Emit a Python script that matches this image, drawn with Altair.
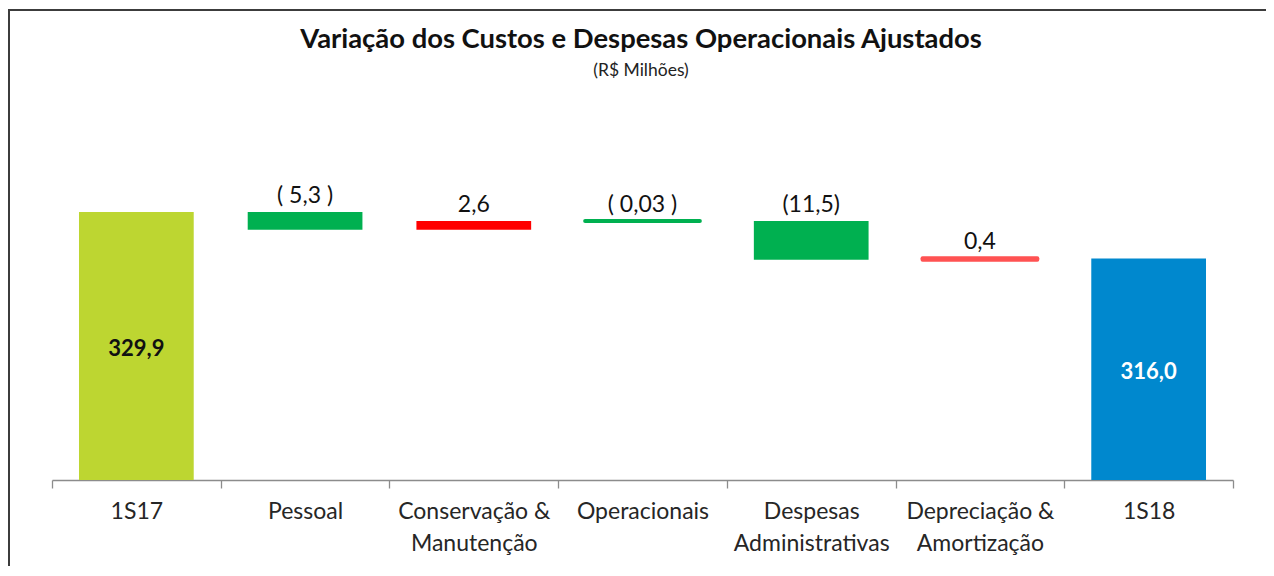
import altair as alt
import pandas as pd

# ---- data ----
categories = ["1S17", "Pessoal", "Conservação &\nManutenção", "Operacionais",
              "Despesas\nAdministrativas", "Depreciação &\nAmortização", "1S18"]
values = [329.9, -5.3, 2.6, -0.03, -11.5, 0.4, 316.0]
kinds = ["total", "delta", "delta", "delta", "delta", "delta", "total"]
value_labels = ["329,9", "( 5,3 )", "2,6", "( 0,03 )", "(11,5)", "0,4", "316,0"]
title_text = "Variação dos Custos e Despesas Operacionais Ajustados"
subtitle_text = "(R$ Milhões)"

# ---- styles ----
palette = ["#BDD631", "#00B050", "#FF0000", "#00B050", "#00B050", "#FF5252", "#0088CE"]
total_label_colors = {"1S17": "#111111", "1S18": "#FFFFFF"}
FONT = "Lato"
Y_MIN, Y_MAX = 250, 340
W, H = 1181, 302

# waterfall geometry derived from the values
rows = []
running = 0.0
for cat, v, k, lab in zip(categories, values, kinds, value_labels):
    if k == "total":
        start, end = 0.0, v
        running = v
    else:
        start, end = running, running + v
        running = end
    rows.append(dict(category=cat, kind=k, label=lab, start=start, end=end,
                     top=max(start, end), size=abs(end - start),
                     mid=(max(min(start, end), Y_MIN) + max(start, end)) / 2,
                     lcolor=total_label_colors.get(cat, "#111111")))
df = pd.DataFrame(rows)

x_enc = alt.X("category:N", sort=categories, title=None,
              scale=alt.Scale(paddingInner=0, paddingOuter=0),
              axis=alt.Axis(labelExpr="split(datum.label, '\\n')", labelAngle=0,
                            tickBand="extent", tickSize=8, labelPadding=12,
                            labelFont=FONT, labelFontSize=23, labelColor="#262626",
                            labelLineHeight=32, labelBaseline="top",
                            domainColor="#8C8C8C", tickColor="#8C8C8C",
                            domainWidth=1.3, tickWidth=1.3))
y_scale = alt.Scale(domain=[Y_MIN, Y_MAX], nice=False, zero=False)

base = alt.Chart(df)

bars = base.mark_bar(width=alt.RelativeBandSize(0.68), clip=True,
                     strokeWidth=4, strokeJoin="round").encode(
    x=x_enc,
    y=alt.Y("start:Q", scale=y_scale, axis=None),
    y2="end:Q",
    color=alt.Color("category:N", sort=categories,
                    scale=alt.Scale(domain=categories, range=palette), legend=None),
    stroke=alt.Stroke("category:N", sort=categories,
                      scale=alt.Scale(domain=categories, range=palette), legend=None),
    strokeOpacity=alt.condition("datum.size < 1", alt.value(1), alt.value(0)),
)

delta_labels = base.transform_filter("datum.kind == 'delta'").mark_text(
    font=FONT, fontSize=23, baseline="bottom", dy=-4, color="#111111"
).encode(
    x=alt.X("category:N", sort=categories),
    y=alt.Y("top:Q", scale=y_scale),
    text="label:N",
)

total_labels = base.transform_filter("datum.kind == 'total'").mark_text(
    font=FONT, fontSize=22, fontWeight="bold", baseline="middle", dy=3
).encode(
    x=alt.X("category:N", sort=categories),
    y=alt.Y("mid:Q", scale=y_scale),
    text="label:N",
    color=alt.Color("lcolor:N", scale=None),
)

one = df.head(1)
title_mark = alt.Chart(one).mark_text(
    font=FONT, fontSize=27.4, fontWeight="bold", color="#111111", baseline="middle"
).encode(x=alt.value(589), y=alt.value(-138), text=alt.value(title_text))
subtitle_mark = alt.Chart(one).mark_text(
    font=FONT, fontSize=17.5, color="#222222", baseline="middle"
).encode(x=alt.value(589), y=alt.value(-107), text=alt.value(subtitle_text))

frame_left = alt.Chart(one).mark_rule(color="#3C3C3C", strokeWidth=2).encode(
    x=alt.value(-43), y=alt.value(-169), y2=alt.value(392))
frame_top = alt.Chart(one).mark_rule(color="#3C3C3C", strokeWidth=2).encode(
    x=alt.value(-44), x2=alt.value(1214), y=alt.value(-168))

chart = alt.layer(bars, delta_labels, total_labels, title_mark, subtitle_mark,
                  frame_left, frame_top).properties(
    width=W, height=H,
    padding={"left": 44, "top": 170, "right": 33, "bottom": 86},
    autosize=alt.AutoSizeParams(type="none"),
).configure(background="white", view=alt.ViewConfig(strokeWidth=0, stroke="transparent"))

chart.save("out.html", embed_options={"renderer": "svg", "actions": False})
